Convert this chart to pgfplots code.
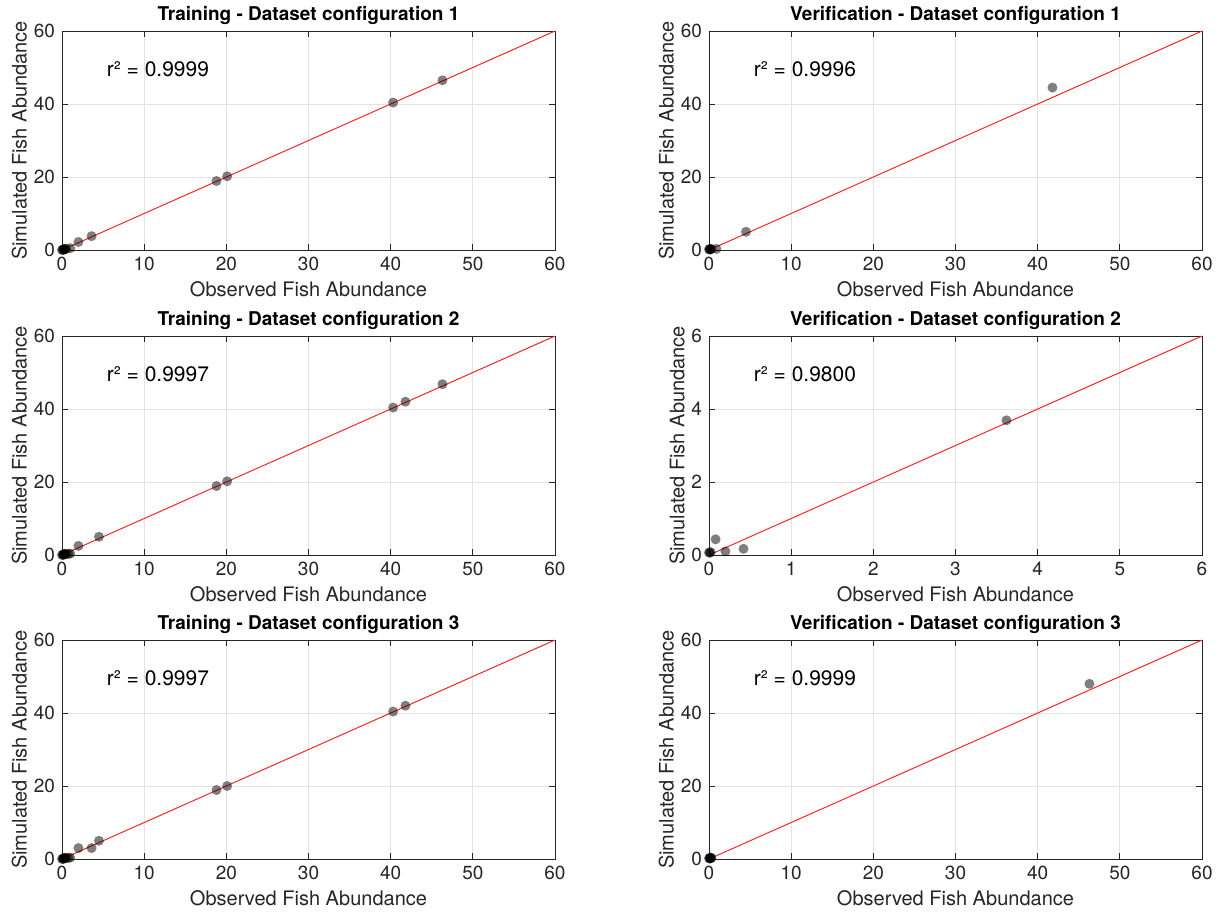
\documentclass[border=0pt]{standalone}
\usepackage{fontspec}
\setmainfont{TeX Gyre Heros}
\usepackage{pgfplots}
\pgfplotsset{compat=1.18}

\definecolor{axgray}{gray}{0.15}
\definecolor{fitred}{RGB}{240,40,40}

\tikzset{rsq/.style={anchor=west, font=\fontsize{10.5}{12}\selectfont}}

\pgfplotsset{
  fishpanel/.style={
    scale only axis,
    width=246.5pt, height=109.5pt,
    xmin=0, xmax=60, ymin=0, ymax=60,
    xtick={0,10,...,60}, ytick={0,20,40,60},
    grid=major,
    major grid style={gray!22, line width=0.4pt},
    axis line style={axgray, line width=0.5pt},
    tick style={axgray, line width=0.5pt},
    tick align=inside,
    major tick length=3pt,
    xticklabel style={font=\fontsize{9.5}{10}\selectfont, text=axgray},
    yticklabel style={font=\fontsize{9.5}{10}\selectfont, text=axgray},
    /pgf/number format/assume math mode=true,
    xlabel={Observed Fish Abundance},
    ylabel={Simulated Fish Abundance},
    xlabel style={font=\fontsize{10}{11}\selectfont, text=axgray, yshift=1.5pt},
    ylabel style={font=\fontsize{10}{11}\selectfont, text=axgray, yshift=-3.5pt},
    title style={font=\bfseries\fontsize{9.5}{10}\selectfont, yshift=-6.5pt},
    clip=false,
  },
  pts/.style={only marks, mark=*, mark size=2.5pt, color=black,
    mark options={draw opacity=0, fill=black, fill opacity=0.5}},
  oneone/.style={fitred, line width=0.5pt, no marks},
}

\begin{document}
\begin{tikzpicture}
\useasboundingbox (0,0) rectangle (610.5pt,-456pt);

% Training 1
\begin{axis}[fishpanel, at={(31pt,-125pt)}, anchor=south west,
  title={Training - Dataset configuration 1}]
\addplot[oneone] coordinates {(0,0) (60,60)};
\addplot[pts] coordinates {
  (0,0) (0.1,0.1) (0.2,0.05) (0.3,0.2) (0.4,0.3) (0.5,0.3) (0.2,0.25)
  (1.0,0.5) (2.0,2.2) (3.6,3.8) (18.8,18.9) (20.1,20.2) (40.3,40.4) (46.3,46.5)};
\node[rsq] at (axis cs:4.6,49.5) {r² = 0.9999};
\end{axis}

% Verification 1
\begin{axis}[fishpanel, at={(354.5pt,-125pt)}, anchor=south west,
  title={Verification - Dataset configuration 1}]
\addplot[oneone] coordinates {(0,0) (60,60)};
\addplot[pts] coordinates {
  (0,0.2) (0.1,0.3) (0.2,0.2) (0.3,0.3) (0.1,0.1)
  (0.9,0.3) (4.5,5.0) (41.8,44.5)};
\node[rsq] at (axis cs:4.6,49.5) {r² = 0.9996};
\end{axis}

% Training 2
\begin{axis}[fishpanel, at={(31pt,-277.5pt)}, anchor=south west,
  title={Training - Dataset configuration 2}]
\addplot[oneone] coordinates {(0,0) (60,60)};
\addplot[pts] coordinates {
  (0,0) (0.1,0.1) (0.2,0.05) (0.3,0.2) (0.4,0.3) (0.5,0.3) (0.2,0.25)
  (0.8,0.3) (1.0,0.4) (2.0,2.5) (4.5,5.0) (18.8,18.9) (20.1,20.2)
  (40.3,40.4) (41.8,42.0) (46.3,46.8)};
\node[rsq] at (axis cs:4.6,49.5) {r² = 0.9997};
\end{axis}

% Verification 2
\begin{axis}[fishpanel, at={(354.5pt,-277.5pt)}, anchor=south west,
  xmax=6, ymax=6, xtick={0,1,...,6}, ytick={0,2,4,6},
  title={Verification - Dataset configuration 2}]
\addplot[oneone] coordinates {(0,0) (6,6)};
\addplot[pts] coordinates {
  (0,0.07) (0.01,0.06) (0.02,0.08) (0.08,0.43) (0.2,0.1) (0.42,0.17) (3.62,3.69)};
\node[rsq] at (axis cs:0.46,4.95) {r² = 0.9800};
\end{axis}

% Training 3
\begin{axis}[fishpanel, at={(31pt,-429.5pt)}, anchor=south west,
  title={Training - Dataset configuration 3}]
\addplot[oneone] coordinates {(0,0) (60,60)};
\addplot[pts] coordinates {
  (0,0) (0.1,0.1) (0.2,0.05) (0.3,0.2) (0.4,0.3) (0.5,0.3) (0.2,0.25)
  (0.8,0.3) (1.0,0.4) (2.0,3.0) (3.6,3.0) (4.5,5.0) (18.8,18.9) (20.1,20.0)
  (40.3,40.4) (41.8,42.0)};
\node[rsq] at (axis cs:4.6,49.5) {r² = 0.9997};
\end{axis}

% Verification 3
\begin{axis}[fishpanel, at={(354.5pt,-429.5pt)}, anchor=south west,
  title={Verification - Dataset configuration 3}]
\addplot[oneone] coordinates {(0,0) (60,60)};
\addplot[pts] coordinates {
  (0,0.2) (0.1,0.3) (0.2,0.2) (0.3,0.3) (0.1,0.1) (0.2,0.4) (46.3,48.0)};
\node[rsq] at (axis cs:4.6,49.5) {r² = 0.9999};
\end{axis}
\end{tikzpicture}
\end{document}
